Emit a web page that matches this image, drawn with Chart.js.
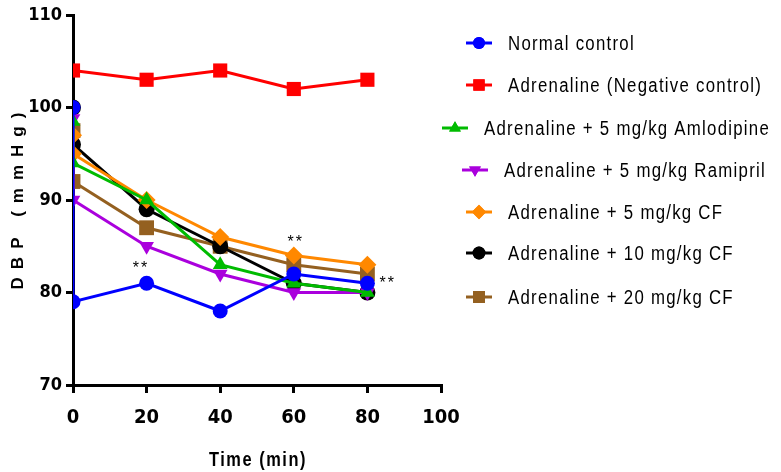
<!DOCTYPE html>
<html><head><meta charset="utf-8">
<script src="https://cdn.jsdelivr.net/npm/chart.js@4.4.1/dist/chart.umd.min.js"></script>
<style>html,body{margin:0;padding:0;background:#fff}#wrap{width:781px;height:472px;position:relative}</style>
</head><body><div id="wrap"><canvas id="c" width="781" height="472"></canvas></div>
<script>
// ---- data ----
const timeSix = [0, 0, 20, 40, 60, 80];
const timeFive = [0, 20, 40, 60, 80];
const normalControl = [100, 79, 81, 78, 82, 81];
const negativeControl = [104, 103, 104, 102, 103];
const amlodipine5 = [98.5, 94, 90, 83, 81, 80];
const ramipril5 = [98.8, 90, 85, 82, 80, 80];
const cf5 = [97, 95, 90, 86, 84, 83];
const cf10 = [100, 96, 89, 85, 81, 80];
const cf20 = [97.5, 92, 87, 85, 83, 82];
const seriesNames = ["Normal control", "Adrenaline (Negative control)", "Adrenaline + 5 mg/kg Amlodipine",
  "Adrenaline + 5 mg/kg Ramipril", "Adrenaline + 5 mg/kg CF", "Adrenaline + 10 mg/kg CF", "Adrenaline + 20 mg/kg CF"];
const yTicks = [70, 80, 90, 100, 110];
const xTicks = [0, 20, 40, 60, 80, 100];
const starX = [18.5, 60.5, 85.5];
const starY = [82.6, 85.4, 81];
const starText = ["**", "**", "**"];

const FONT = "'DejaVu Sans Condensed','Liberation Sans Narrow',sans-serif";
const colors = ["#0000ff", "#ff0000", "#00bb00", "#aa00dd", "#ff8800", "#000000", "#946020"];
const styles = ["circle", "rect", "triangle", "triangle", "rectRot", "circle", "rect"];
const rotations = [0, 0, 0, 180, 0, 0, 0];
const radii = [7.5, 10, 8.5, 8.5, 9, 8, 10.5];
const seriesVals = [normalControl, negativeControl, amlodipine5, ramipril5, cf5, cf10, cf20];
const seriesX = [timeSix, timeFive, timeSix, timeSix, timeSix, timeSix, timeSix];

const datasets = seriesVals.map((vals, i) => ({
  label: seriesNames[i],
  data: vals.map((v, j) => ({x: seriesX[i][j], y: v})),
  borderColor: colors[i], backgroundColor: colors[i],
  borderWidth: 3, pointStyle: styles[i], pointRotation: rotations[i],
  pointRadius: radii[i], pointBorderWidth: 0, pointBackgroundColor: colors[i],
  showLine: true, tension: 0, fill: false
}));

const legendMarkX = [479, 479, 455, 475, 479, 479, 479];
const legendY = [43, 85, 128, 170, 212, 253, 297];

function squeezedText(ctx, text, x, y, sx) {
  ctx.save();
  ctx.translate(x, y);
  ctx.scale(sx, 1);
  ctx.fillText(text, 0, 0);
  ctx.restore();
}

const decor = {
  id: 'decor',
  afterDatasetsDraw(chart) {
    const ctx = chart.ctx, xs = chart.scales.x, ys = chart.scales.y;
    ctx.save();
    ctx.fillStyle = '#000';
    ctx.font = "16px 'Liberation Sans',Arial,sans-serif";
    ctx.textAlign = 'center'; ctx.textBaseline = 'middle';
    ctx.letterSpacing = '2px';
    starText.forEach((t, i) => ctx.fillText(t, xs.getPixelForValue(starX[i]), ys.getPixelForValue(starY[i])));
    // axis titles
    ctx.font = "bold 17px 'Liberation Sans',Arial,sans-serif";
    ctx.letterSpacing = '8px';
    ctx.save();
    ctx.translate(18, 201);
    ctx.rotate(-Math.PI / 2);
    ctx.fillText("DBP (mmHg)", 4, 0);
    ctx.restore();
    ctx.font = "bold 21px 'Liberation Sans',Arial,sans-serif";
    ctx.letterSpacing = '2px';
    squeezedText(ctx, "Time (min)", 258, 460, 0.78);
    // legend
    ctx.textAlign = 'left';
    ctx.font = "20px 'Liberation Sans',Arial,sans-serif";
    ctx.letterSpacing = '1.5px';
    seriesNames.forEach((name, i) => {
      const mx = legendMarkX[i], my = legendY[i];
      ctx.strokeStyle = colors[i]; ctx.lineWidth = 3;
      ctx.beginPath(); ctx.moveTo(mx - 13, my); ctx.lineTo(mx + 13, my); ctx.stroke();
      ctx.fillStyle = colors[i];
      Chart.helpers.drawPoint(ctx, {pointStyle: styles[i], rotation: rotations[i], radius: radii[i] * 0.8, borderWidth: 0}, mx, my);
      ctx.fill();
      ctx.fillStyle = '#000';
      squeezedText(ctx, name, mx + 29, my + 1, 0.84);
    });
    ctx.restore();
  }
};

new Chart(document.getElementById('c'), {
  type: 'scatter',
  data: {datasets},
  options: {
    responsive: false, animation: false, devicePixelRatio: 1,
    layout: {padding: {left: 0, right: 340, top: 15, bottom: 0}},
    plugins: {legend: {display: false}, tooltip: {enabled: false}},
    scales: {
      x: {
        type: 'linear', min: 0, max: 100,
        afterFit: s => { s.height = 87; },
        afterBuildTicks: s => { s.ticks = xTicks.map(v => ({value: v})); },
        grid: {display: true, drawOnChartArea: false, drawTicks: true, tickLength: 8, color: '#000', lineWidth: 3},
        border: {display: true, color: '#000', width: 3},
        ticks: {color: '#000', padding: 13, font: {family: FONT, size: 20, weight: 'bold'}, maxRotation: 0}
      },
      y: {
        type: 'linear', min: 70, max: 110,
        afterFit: s => { s.width = 73; },
        afterBuildTicks: s => { s.ticks = yTicks.map(v => ({value: v})); },
        grid: {display: true, drawOnChartArea: false, drawTicks: true, tickLength: 7, color: '#000', lineWidth: 3},
        border: {display: true, color: '#000', width: 3},
        ticks: {color: '#000', padding: 4, font: {family: FONT, size: 18, weight: 'bold'}}
      }
    }
  },
  plugins: [decor]
});
</script></body></html>
